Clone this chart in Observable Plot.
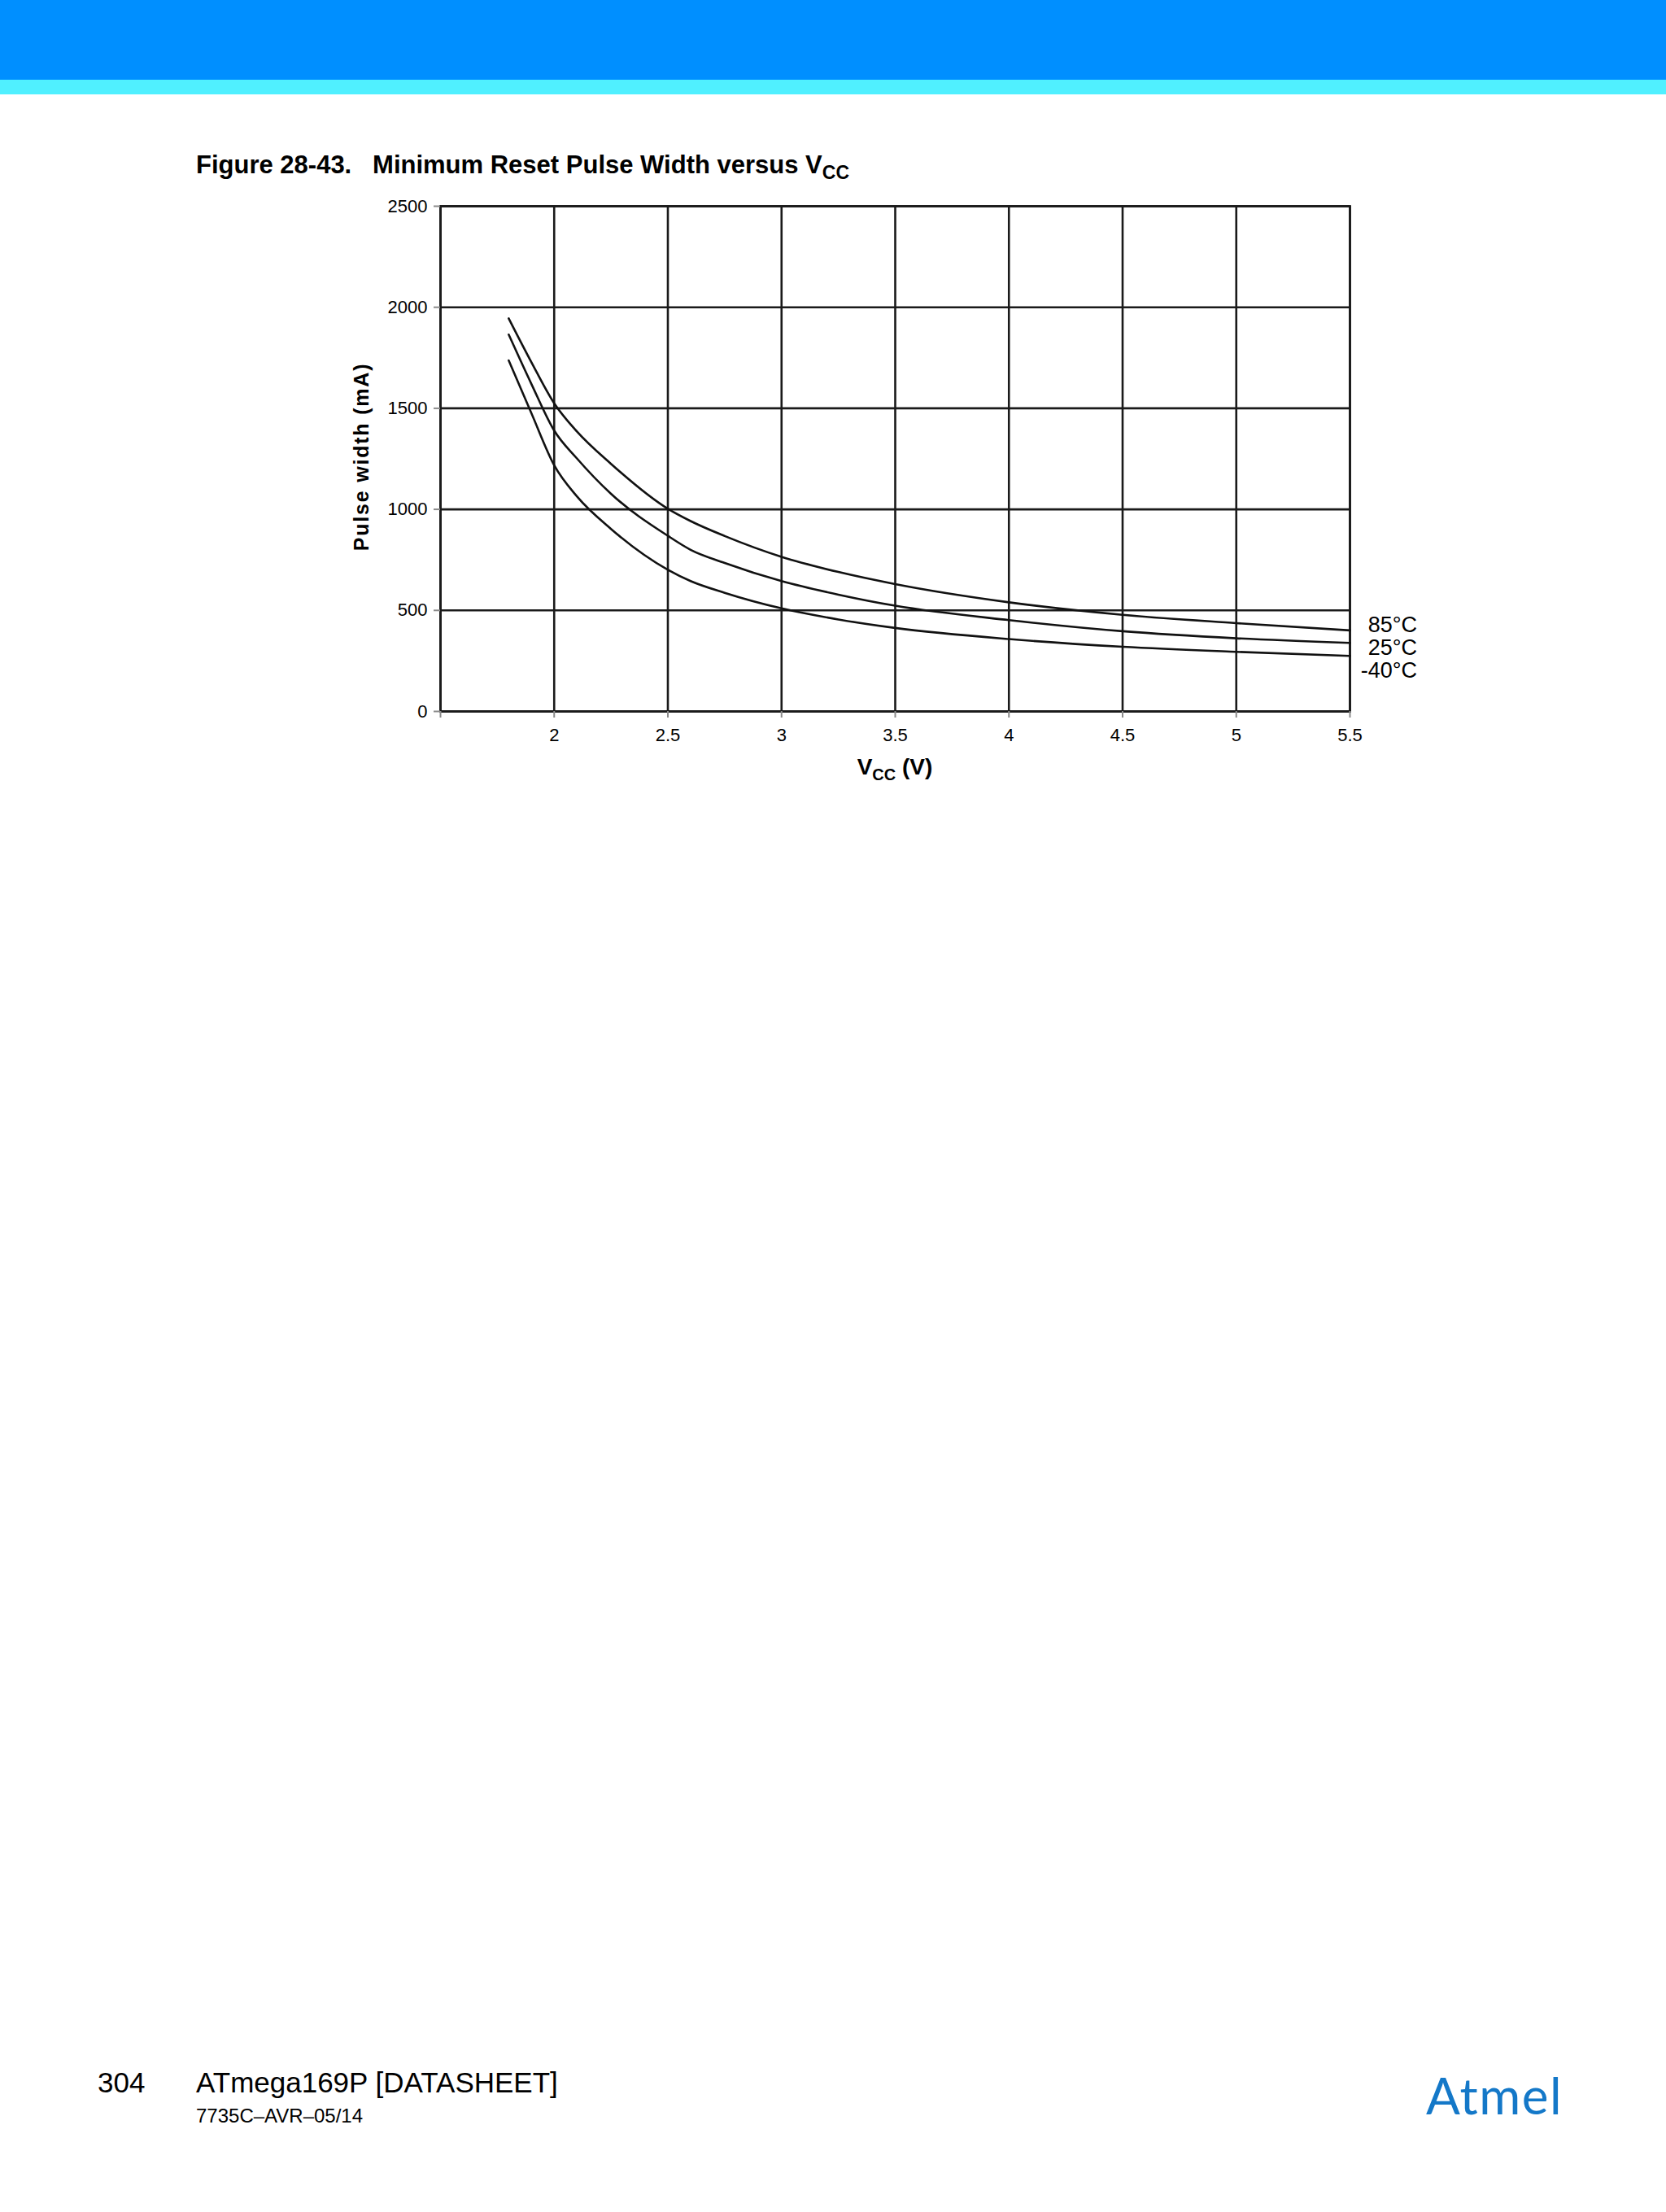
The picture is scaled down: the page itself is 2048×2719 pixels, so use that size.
<!DOCTYPE html>
<html>
<head>
<meta charset="utf-8">
<script src="https://cdn.jsdelivr.net/npm/d3@7"></script>
<script src="https://cdn.jsdelivr.net/npm/@observablehq/plot@0.6"></script>
<style>
  html, body { margin: 0; padding: 0; background: #fff; }
  #page { position: relative; width: 2048px; height: 2719px; overflow: hidden; background: #fff;
          font-family: "Liberation Sans", Arial, Helvetica, sans-serif; color: #000; }
  .abs { position: absolute; white-space: nowrap; }
  #hdr1 { left: 0; top: 0; width: 2048px; height: 98px; background: #008fff; }
  #hdr2 { left: 0; top: 98px; width: 2048px; height: 18px; background: #50f0ff; }
  #title { left: 241px; top: 187px; font-size: 31px; line-height: 31px; font-weight: bold; }
  #title sub { font-size: 23px; vertical-align: baseline; position: relative; top: 7px; }
  #xlabel { left: 900px; width: 400px; top: 929px; text-align: center; font-size: 28px; line-height: 28px; font-weight: bold; }
  #xlabel sub { font-size: 20px; vertical-align: baseline; position: relative; top: 7px; }
  #ylabel { left: 244px; width: 400px; top: 549px; text-align: center; font-size: 25px; line-height: 25px;
            font-weight: bold; letter-spacing: 1.8px; transform: rotate(-90deg); transform-origin: 50% 50%; }
  #legend { left: 1560px; width: 182px; top: 754px; text-align: right; font-size: 27px; line-height: 28px; }
  #pnum { left: 120px; top: 2542px; font-size: 35px; line-height: 35px; }
  #doc { left: 241px; top: 2542px; font-size: 35px; line-height: 35px; }
  #rev { left: 241px; top: 2589px; font-size: 24px; line-height: 24px; }
  #logo { left: 1753px; top: 2544px; font-family: Lato, "Open Sans", sans-serif; font-weight: normal; font-size: 62px; line-height: 62px;
          color: #1478c8; letter-spacing: 1.5px; }
  #chart { position: absolute; left: 0; top: 200px; }
</style>
</head>
<body>
<div id="page">
  <div id="hdr1" class="abs"></div>
  <div id="hdr2" class="abs"></div>
  <div id="title" class="abs">Figure 28-43.&nbsp;&nbsp;&nbsp;Minimum Reset Pulse Width versus V<sub>CC</sub></div>
  <div id="chart"></div>
  <div id="ylabel" class="abs">Pulse width (mA)</div>
  <div id="xlabel" class="abs">V<sub>CC</sub> (V)</div>
  <div id="legend" class="abs">85°C<br>25°C<br>-40°C</div>
  <div id="pnum" class="abs">304</div>
  <div id="doc" class="abs">ATmega169P [DATASHEET]</div>
  <div id="rev" class="abs">7735C–AVR–05/14</div>
  <div id="logo" class="abs">Atmel</div>
</div>
<script>
// ---- data ----
const vcc   = [1.8, 1.9, 2.0, 2.1, 2.25, 2.5, 2.6, 2.75, 3.0, 3.25, 3.5, 4.0, 4.5, 5.0, 5.5];
const pw85  = [1945, 1728, 1525, 1385, 1225, 1003, 942, 868, 765, 690, 630, 540, 478, 437, 401];
const pw25  = [1865, 1620, 1390, 1252, 1077, 869, 800, 735, 645, 578, 523, 452, 397, 362, 339];
const pwM40 = [1737, 1475, 1218, 1064, 903, 701, 645, 587, 510, 455, 413, 358, 320, 295, 275];
const seriesNames = ["85°C", "25°C", "-40°C"];
const xTicks = [1.5, 2, 2.5, 3, 3.5, 4, 4.5, 5, 5.5];
const yTicks = [0, 500, 1000, 1500, 2000, 2500];

const seriesValues = [pw85, pw25, pwM40];
const rows = [];
seriesNames.forEach((name, i) => {
  vcc.forEach((v, j) => rows.push({series: name, vcc: v, pw: seriesValues[i][j]}));
});

const chart = Plot.plot({
  width: 1800,
  height: 800,
  marginLeft: 541,
  marginRight: 141,
  marginTop: 53,
  marginBottom: 126,
  x: {domain: [1.5, 5.5]},
  y: {domain: [0, 2500]},
  style: {fontFamily: "'Liberation Sans', Arial, sans-serif", fontSize: "22px", color: "#000", background: "transparent"},
  marks: [
    Plot.gridX({ticks: xTicks, stroke: "#1a1a1a", strokeOpacity: 1, strokeWidth: 2.6}),
    Plot.gridY({ticks: yTicks, stroke: "#1a1a1a", strokeOpacity: 1, strokeWidth: 2.6}),
    Plot.frame({stroke: "#1a1a1a", strokeWidth: 2.8}),
    Plot.axisX({ticks: xTicks, tickSize: 8, tickPadding: 13, stroke: "#8a8a8a", strokeWidth: 2, fill: "#000",
                fontSize: 22, label: null, tickFormat: d => d === 1.5 ? "" : String(d)}),
    Plot.axisY({ticks: yTicks, tickSize: 8, tickPadding: 8, stroke: "#8a8a8a", strokeWidth: 2, fill: "#000",
                fontSize: 22, label: null, tickFormat: d => String(d)}),
    Plot.line(rows, {x: "vcc", y: "pw", z: "series", curve: "monotone-x", stroke: "#111", strokeWidth: 2.6})
  ]
});
document.getElementById("chart").appendChild(chart);
</script>
</body>
</html>
